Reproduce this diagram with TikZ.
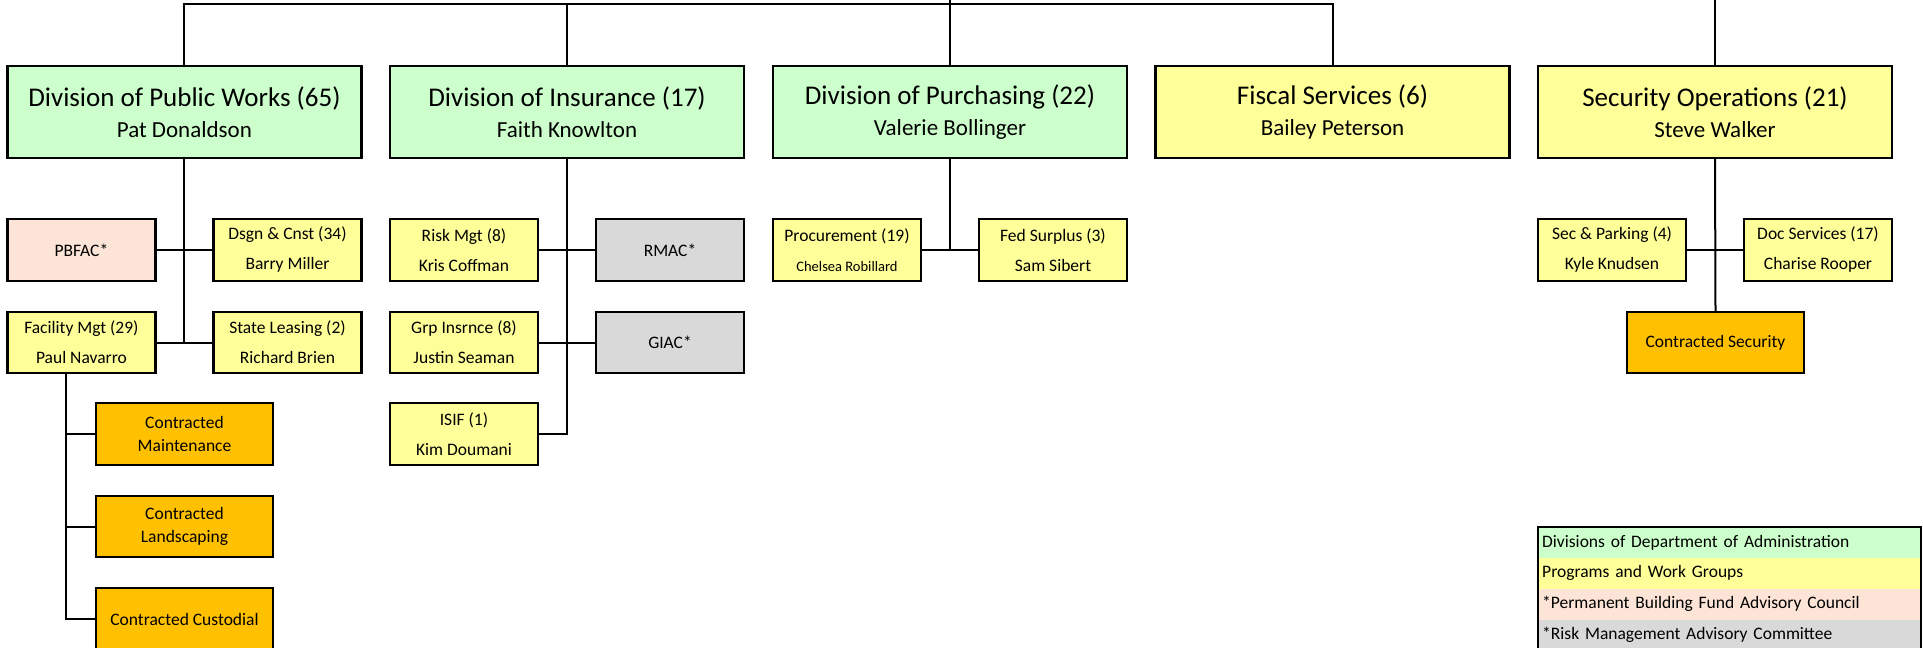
\documentclass[tikz,border=0pt]{standalone}
\usepackage{fontspec}
\setmainfont{Carlito}
\definecolor{divgreen}{HTML}{CCFFCC}
\definecolor{progyellow}{HTML}{FFFF99}
\definecolor{pbpink}{HTML}{FCE4D6}
\definecolor{rmgrey}{HTML}{D9D9D9}
\definecolor{contorange}{HTML}{FFC000}
\newcommand{\divtxt}[2]{{\fontsize{27}{31}\selectfont #1}\\#2}
\begin{document}
\begin{tikzpicture}[x=1pt,y=-1pt,
  box/.style={draw, line width=2.3pt, inner sep=0pt, align=center},
  divbox/.style={box, fill=divgreen, minimum width=354pt, minimum height=92pt, font=\fontsize{23}{31}\selectfont},
  fisbox/.style={divbox, fill=progyellow},
  progbox/.style={box, fill=progyellow, minimum width=148pt, minimum height=62pt, font=\fontsize{17.5}{30}\selectfont},
  pinkbox/.style={progbox, fill=pbpink},
  greybox/.style={progbox, fill=rmgrey},
  contbox/.style={box, fill=contorange, minimum width=177pt, minimum height=62pt, font=\fontsize{17.5}{23}\selectfont},
  conn/.style={line width=2pt},
  leg/.style={anchor=north west, inner xsep=4pt, inner ysep=0pt, text width=375pt, minimum height=30.5pt, align=left, font=\fontsize{17.5}{20}\selectfont}
]
\useasboundingbox (0,0) rectangle (1923,648);
\clip (0,0) rectangle (1923,648);

% division row
\node[divbox] (pw)  at (184.4,112) {\divtxt{Division of Public Works (65)}{Pat Donaldson}};
\node[divbox] (ins) at (567,112) {\divtxt{Division of Insurance (17)}{Faith Knowlton}};
\node[divbox] (pur) at (950,112) {\divtxt{Division of Purchasing (22)}{Valerie Bollinger}};
\node[fisbox] (fis) at (1332.5,112) {\divtxt{Fiscal Services (6)}{Bailey Peterson}};
\node[fisbox] (sec) at (1715,112) {\divtxt{Security Operations (21)}{Steve Walker}};

% row 2
\node[pinkbox] (pbfac) at (81.4,250) {PBFAC*};
\node[progbox] (dsgn) at (287.5,250) {Dsgn \& Cnst (34)\\Barry Miller};
\node[progbox] (risk) at (464,250) {Risk Mgt (8)\\Kris Coffman};
\node[greybox] (rmac) at (670,250) {RMAC*};
\node[progbox] (proc) at (847,250) {Procurement (19)\\{\fontsize{14.5}{30}\selectfont Chelsea Robillard}};
\node[progbox] (fed) at (1053,250) {Fed Surplus (3)\\Sam Sibert};
\node[progbox] (spk) at (1612,250) {Sec \& Parking (4)\\Kyle Knudsen};
\node[progbox] (doc) at (1818,250) {Doc Services (17)\\Charise Rooper};

% row 3
\node[progbox, minimum height=61pt] (fac) at (81.4,342.5) {Facility Mgt (29)\\Paul Navarro};
\node[progbox, minimum height=61pt] (lease) at (287.5,342.5) {State Leasing (2)\\Richard Brien};
\node[progbox, minimum height=61pt] (grp) at (464,342.5) {Grp Insrnce (8)\\Justin Seaman};
\node[greybox, minimum height=61pt] (giac) at (670,342.5) {GIAC*};
\node[contbox, minimum height=61pt] (csec) at (1715.5,342.5) {Contracted Security};

% lower rows
\node[progbox] (isif) at (464,434) {ISIF (1)\\Kim Doumani};
\node[contbox] (cmaint) at (184.5,434) {Contracted\\Maintenance};
\node[contbox, minimum height=61pt] (cland) at (184.5,526.5) {Contracted\\Landscaping};
\node[contbox] (ccust) at (184.5,619) {Contracted Custodial};

% top connectors
\coordinate (bar) at (950,4);
\coordinate (edge) at (950,-3);
\draw[conn] (pw.north) |- (bar) -| (fis.north);
\draw[conn] (ins.north) -- (ins.north |- bar);
\draw[conn] (pur.north) -- (pur.north |- edge);
\draw[conn] (sec.north) -- (sec.north |- edge);

% public works
\draw[conn] (pw.south) -- (pw.south |- fac.east);
\draw[conn] (pbfac.east) -- (dsgn.west);
\draw[conn] (fac.east) -- (lease.west);
\coordinate (fv) at ([xshift=-15.4pt]fac.south);
\draw[conn] (fv) |- (cmaint.west);
\draw[conn] (fv) |- (cland.west);
\draw[conn] (fv) |- (ccust.west);

% insurance
\draw[conn] (ins.south) |- (isif.east);
\draw[conn] (risk.east) -- (rmac.west);
\draw[conn] (grp.east) -- (giac.west);

% purchasing
\draw[conn] (pur.south) -- (pur.south |- proc.east);
\draw[conn] (proc.east) -- (fed.west);

% security
\draw[conn] (sec.south) -- (csec.north);
\draw[conn] (spk.east) -- (doc.west);

% legend
\node[leg, fill=divgreen] (l1) at (1538,527) {Divisions of Department of Administration};
\node[leg, fill=progyellow] (l2) at (l1.south west) {Programs and Work Groups};
\node[leg, fill=pbpink] (l3) at (l2.south west) {*Permanent Building Fund Advisory Council};
\node[leg, fill=rmgrey] (l4) at (l3.south west) {*Risk Management Advisory Committee};
\draw[line width=2pt] (l4.south west) -- (l1.north west) -- (l1.north east) -- (l4.south east);
\end{tikzpicture}
\end{document}
